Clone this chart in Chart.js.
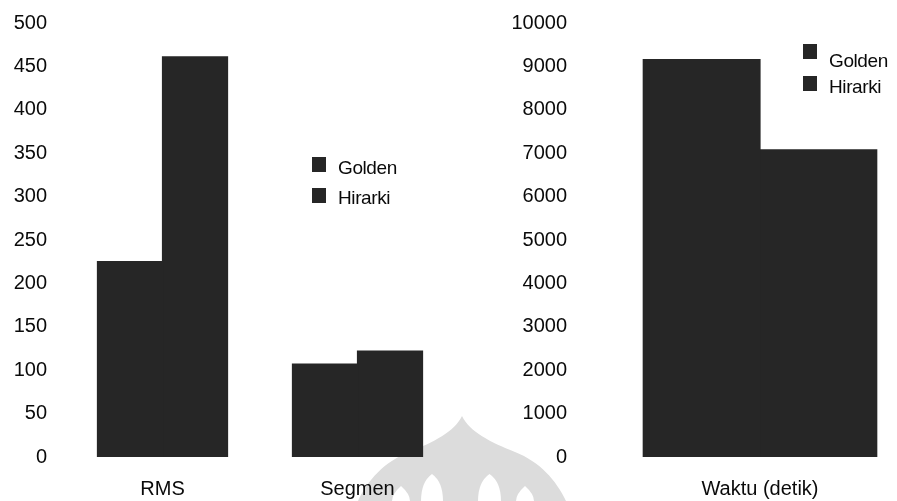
<!DOCTYPE html>
<html>
<head>
<meta charset="utf-8">
<script src="https://cdn.jsdelivr.net/npm/chart.js@4.4.1/dist/chart.umd.min.js"></script>
<style>
  html, body { margin: 0; padding: 0; background: #fff; overflow: hidden; width: 897px; height: 501px; }
  #stage { position: relative; width: 897px; height: 501px; overflow: hidden; }
  canvas { position: absolute; top: 0; }
  #bg { left: 0; }
  #leftChart { left: 0; }
  #rightChart { left: 470px; }
  .sw { position: absolute; width: 14px; height: 15px; background: #262626; }
  .lt { position: absolute; font-family: "Liberation Sans", Arial, sans-serif; font-size: 19px; color: #0a0a0a; line-height: 20px; letter-spacing: -0.4px; }
</style>
</head>
<body>
<div id="stage">
  <canvas id="bg" width="897" height="501"></canvas>
  <canvas id="leftChart" width="460" height="501"></canvas>
  <canvas id="rightChart" width="470" height="501"></canvas>

  <div class="sw" style="left:312px; top:157px;"></div>
  <div class="lt" style="left:338px; top:158px;">Golden</div>
  <div class="sw" style="left:312px; top:188px;"></div>
  <div class="lt" style="left:338px; top:188px;">Hirarki</div>

  <div class="sw" style="left:803px; top:44px;"></div>
  <div class="lt" style="left:829px; top:51px;">Golden</div>
  <div class="sw" style="left:803px; top:76px;"></div>
  <div class="lt" style="left:829px; top:77px;">Hirarki</div>
</div>
<script>
// Left panel: error measures
const qualityCategories = ['RMS', 'Segmen'];
const qualityGolden = [225, 107];
const qualityHirarki = [461, 122];

// Right panel: processing time in seconds
const timeCategories = ['Waktu (detik)'];
const timeGolden = [9155];
const timeHirarki = [7080];

const seriesNames = ['Golden', 'Hirarki'];

const BAR = '#262626';
const TEXT = '#0a0a0a';
const FONT = { family: '"Liberation Sans", Arial, sans-serif', size: 20 };

// faint emblem printed behind the charts
(function drawEmblem() {
  const c = document.getElementById('bg').getContext('2d');
  c.fillStyle = '#dcdcdc';
  c.beginPath();
  c.moveTo(462, 416);
  c.bezierCurveTo(470, 432, 490, 442, 515, 452);
  c.bezierCurveTo(540, 462, 556, 480, 566, 501);
  c.lineTo(358, 501);
  c.bezierCurveTo(368, 480, 384, 462, 409, 452);
  c.bezierCurveTo(434, 442, 454, 432, 462, 416);
  c.closePath();
  c.fill();
  c.fillStyle = '#fff';
  // pointed openings between the petals
  [[421, 443, 474], [478, 501, 474], [392, 410, 486], [516, 534, 486]].forEach(([a, b, top]) => {
    const m = (a + b) / 2;
    c.beginPath();
    c.moveTo(a, 501);
    c.quadraticCurveTo(a, top + 8, m, top);
    c.quadraticCurveTo(b, top + 8, b, 501);
    c.closePath();
    c.fill();
  });
})();

function makeBarChart(id, labels, golden, hirarki, yMax, yStep, yWidth) {
  return new Chart(document.getElementById(id), {
    type: 'bar',
    data: {
      labels: labels,
      datasets: [
        { label: seriesNames[0], data: golden, backgroundColor: BAR, borderWidth: 0, inflateAmount: 0.6 },
        { label: seriesNames[1], data: hirarki, backgroundColor: BAR, borderWidth: 0, inflateAmount: 0.6 }
      ]
    },
    options: {
      responsive: false,
      animation: false,
      events: [],
      layout: { padding: { top: 23, right: 5, bottom: 0, left: 0 } },
      datasets: { bar: { categoryPercentage: 0.667, barPercentage: 1.0 } },
      plugins: { legend: { display: false }, tooltip: { enabled: false } },
      scales: {
        x: {
          grid: { display: false, drawTicks: false },
          border: { display: false },
          ticks: { color: TEXT, font: FONT, padding: 20, maxRotation: 0 },
          afterFit: (s) => { s.height = 44; }
        },
        y: {
          min: 0,
          max: yMax,
          grid: { display: false, drawTicks: false },
          border: { display: false },
          ticks: { color: TEXT, font: FONT, stepSize: yStep, padding: 18, callback: (v) => String(v) },
          afterFit: (s) => { s.width = yWidth; s.paddingTop = 0; s.paddingBottom = 0; }
        }
      }
    }
  });
}

makeBarChart('leftChart', qualityCategories, qualityGolden, qualityHirarki, 500, 50, 65);
makeBarChart('rightChart', timeCategories, timeGolden, timeHirarki, 10000, 1000, 115);
</script>
</body>
</html>
